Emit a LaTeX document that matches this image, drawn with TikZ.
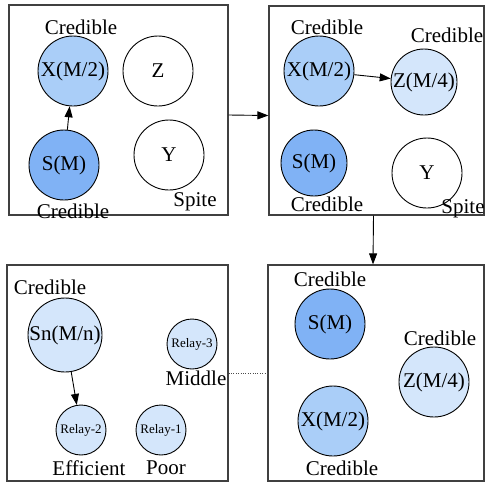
\documentclass[tikz,border=0pt]{standalone}
\usepackage{fontspec}
\setmainfont{Liberation Serif}
\newfontfamily\diagfont{Liberation Serif}
\usetikzlibrary{positioning,arrows.meta}
\definecolor{smfill}{RGB}{128,178,245}
\definecolor{xfill}{RGB}{170,206,248}
\definecolor{zfill}{RGB}{212,230,251}
\tikzset{
    panel/.style={draw=black!75, rectangle, line width=1.2pt, inner sep=0pt},
    agent/.style={draw, circle, minimum size=70pt, inner sep=0pt, line width=0.9pt, font=\diagfont\fontsize{21}{21}\selectfont},
    relay/.style={draw, circle, minimum size=50pt, inner sep=0pt, line width=0.9pt, fill=zfill, font=\diagfont\fontsize{13}{13}\selectfont},
    tag/.style={inner sep=0pt, font=\diagfont\fontsize{21}{21}\selectfont},
    link/.style={-{Triangle[length=11pt,width=8pt]}, line width=0.9pt}
}

\begin{document}
\begin{tikzpicture}[x=1pt, y=-1pt]
        \useasboundingbox (0,0) rectangle (485,483);

        % Panels
        \node (p1) [panel, minimum width=219pt, minimum height=210pt] at (118.5,110) {};
        \node (p2) [panel, minimum width=215pt, minimum height=209pt] at (376.5,110.5) {};
        \node (p3) [panel, minimum width=221pt, minimum height=216pt] at (117.5,373) {};
        \node (p4) [panel, minimum width=216pt, minimum height=216pt] at (376,373) {};

        % Panel links
        \draw[link] ([yshift=-5pt]p1.east) -- ([yshift=-5pt]p2.west);
        \draw[link] ([xshift=-3pt]p2.south) -- ([xshift=-3pt]p4.north);
        \draw[dotted, black!70] (p3.east) -- (p4.west);

        % Panel 1
        \node (x1) [agent, fill=xfill] at (73,71) {X(M/2)};
        \node (z1) [agent] at (158,71) {Z};
        \node (s1) [agent, fill=smfill] at (64,165) {S(M)};
        \node (y1) [agent] at (169,155) {Y};
        \node (x1tag) [tag] at (81,27) {Credible};
        \node (s1tag) [tag] at (73,211) {Credible};
        \node (y1tag) [tag] at (195,202) {Spite};
        \draw[link] (s1) -- (x1);

        % Panel 2
        \node (x2) [agent, fill=xfill] at (319,71) {X(M/2)};
        \node (z2) [agent, fill=zfill, minimum size=66pt] at (424,82) {Z(M/4)};
        \node (s2) [agent, fill=smfill, minimum size=66pt] at (314,163) {S(M)};
        \node (y2) [agent] at (427,173) {Y};
        \node (x2tag) [tag] at (327,27) {Credible};
        \node (z2tag) [tag] at (447,35) {Credible};
        \node (s2tag) [tag] at (327,204) {Credible};
        \node (y2tag) [tag] at (463,209) {Spite};
        \draw[link] (x2) -- (z2);

        % Panel 3
        \node (sn) [agent, fill=zfill, minimum size=74pt] at (65,335) {Sn(M/n)};
        \node (r3) [relay] at (192,344) {Relay-3};
        \node (r2) [relay] at (81,430) {Relay-2};
        \node (r1) [relay] at (161,430) {Relay-1};
        \node (sntag) [tag] at (50,287) {Credible};
        \node (r3tag) [tag] at (196,378) {Middle};
        \node (r2tag) [tag] at (89,468) {Efficient};
        \node (r1tag) [tag] at (166,468) {Poor};
        \draw[link] (sn) -- (r2);

        % Panel 4
        \node (s4) [agent, fill=smfill] at (330,324) {S(M)};
        \node (z4) [agent, fill=zfill] at (434,382) {Z(M/4)};
        \node (x4) [agent, fill=xfill] at (333,421) {X(M/2)};
        \node (s4tag) [tag] at (330,279) {Credible};
        \node (z4tag) [tag] at (440,338) {Credible};
        \node (x4tag) [tag] at (342,468) {Credible};

\end{tikzpicture}
\end{document}
